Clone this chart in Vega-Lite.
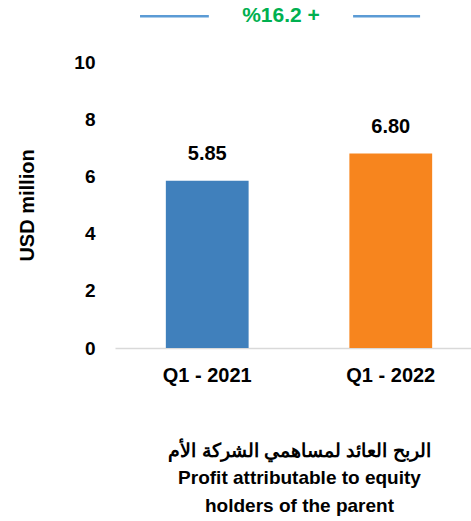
{
  "$schema": "https://vega.github.io/schema/vega-lite/v6.json",
  "autosize": "none",
  "width": 368,
  "height": 286,
  "padding": {"left": 115, "top": 62, "right": 0, "bottom": 173},
  "config": {"view": {"stroke": null}, "font": "Liberation Sans"},
  "resolve": {"scale": {"x": "independent", "y": "independent"}, "axis": {"x": "independent", "y": "independent"}},
  "layer": [
    {
      "data": {"values": [
        {"period": "Q1 - 2021", "value": 5.85, "label": "5.85"},
        {"period": "Q1 - 2022", "value": 6.80, "label": "6.80"}
      ]},
      "encoding": {
        "x": {
          "field": "period", "type": "nominal", "sort": null,
          "scale": {"paddingInner": 0.549, "paddingOuter": 0.277},
          "axis": {
            "labelAngle": 0, "labelFont": "Liberation Sans", "labelFontWeight": "bold", "labelFontSize": 20,
            "labelColor": "#000000", "labelPadding": 17, "ticks": false,
            "domainColor": "#D9D9D9", "domainWidth": 1.5,
            "title": ["الربح العائد لمساهمي الشركة الأم", "Profit attributable to equity", "holders of the parent"],
            "titleFont": "Liberation Sans", "titleFontSize": 19, "titleFontWeight": "bold", "titleColor": "#000000",
            "titlePadding": 56, "titleLineHeight": 27.5
          }
        },
        "y": {
          "field": "value", "type": "quantitative",
          "scale": {"domain": [0, 10]},
          "axis": {
            "values": [0, 2, 4, 6, 8, 10], "grid": false, "domain": false, "ticks": false,
            "labelFont": "Liberation Sans", "labelFontWeight": "bold", "labelFontSize": 19, "labelColor": "#000000",
            "labelPadding": 20,
            "title": "USD million", "titleFont": "Liberation Sans", "titleFontSize": 20, "titleFontWeight": "bold",
            "titleColor": "#000000", "titlePadding": 36
          }
        }
      },
      "layer": [
        {
          "mark": {"type": "bar"},
          "encoding": {
            "color": {"field": "period", "type": "nominal", "sort": null, "scale": {"range": ["#4080BC", "#F7851E"]}, "legend": null}
          }
        },
        {
          "mark": {"type": "text", "dy": -21, "baseline": "alphabetic", "fontSize": 20, "fontWeight": "bold", "color": "#000000", "font": "Liberation Sans"},
          "encoding": {"text": {"field": "label"}}
        }
      ]
    },
    {
      "data": {"values": [{"note": "%16.2 +"}]},
      "layer": [
        {
          "mark": {"type": "rule", "color": "#5B9BD5", "strokeWidth": 2.5},
          "encoding": {
            "x": {"datum": 0.068, "type": "quantitative", "scale": {"domain": [0, 1]}, "axis": null},
            "x2": {"datum": 0.255},
            "y": {"datum": 11.6, "type": "quantitative", "scale": {"domain": [0, 10]}, "axis": null}
          }
        },
        {
          "mark": {"type": "rule", "color": "#5B9BD5", "strokeWidth": 2.5},
          "encoding": {
            "x": {"datum": 0.647, "type": "quantitative", "scale": {"domain": [0, 1]}, "axis": null},
            "x2": {"datum": 0.829},
            "y": {"datum": 11.6, "type": "quantitative", "scale": {"domain": [0, 10]}, "axis": null}
          }
        },
        {
          "mark": {"type": "text", "color": "#00B050", "fontSize": 21, "fontWeight": "bold", "font": "Liberation Sans", "baseline": "middle"},
          "encoding": {
            "x": {"datum": 0.451, "type": "quantitative", "scale": {"domain": [0, 1]}, "axis": null},
            "y": {"datum": 11.6, "type": "quantitative", "scale": {"domain": [0, 10]}, "axis": null},
            "text": {"field": "note"}
          }
        }
      ]
    }
  ]
}
